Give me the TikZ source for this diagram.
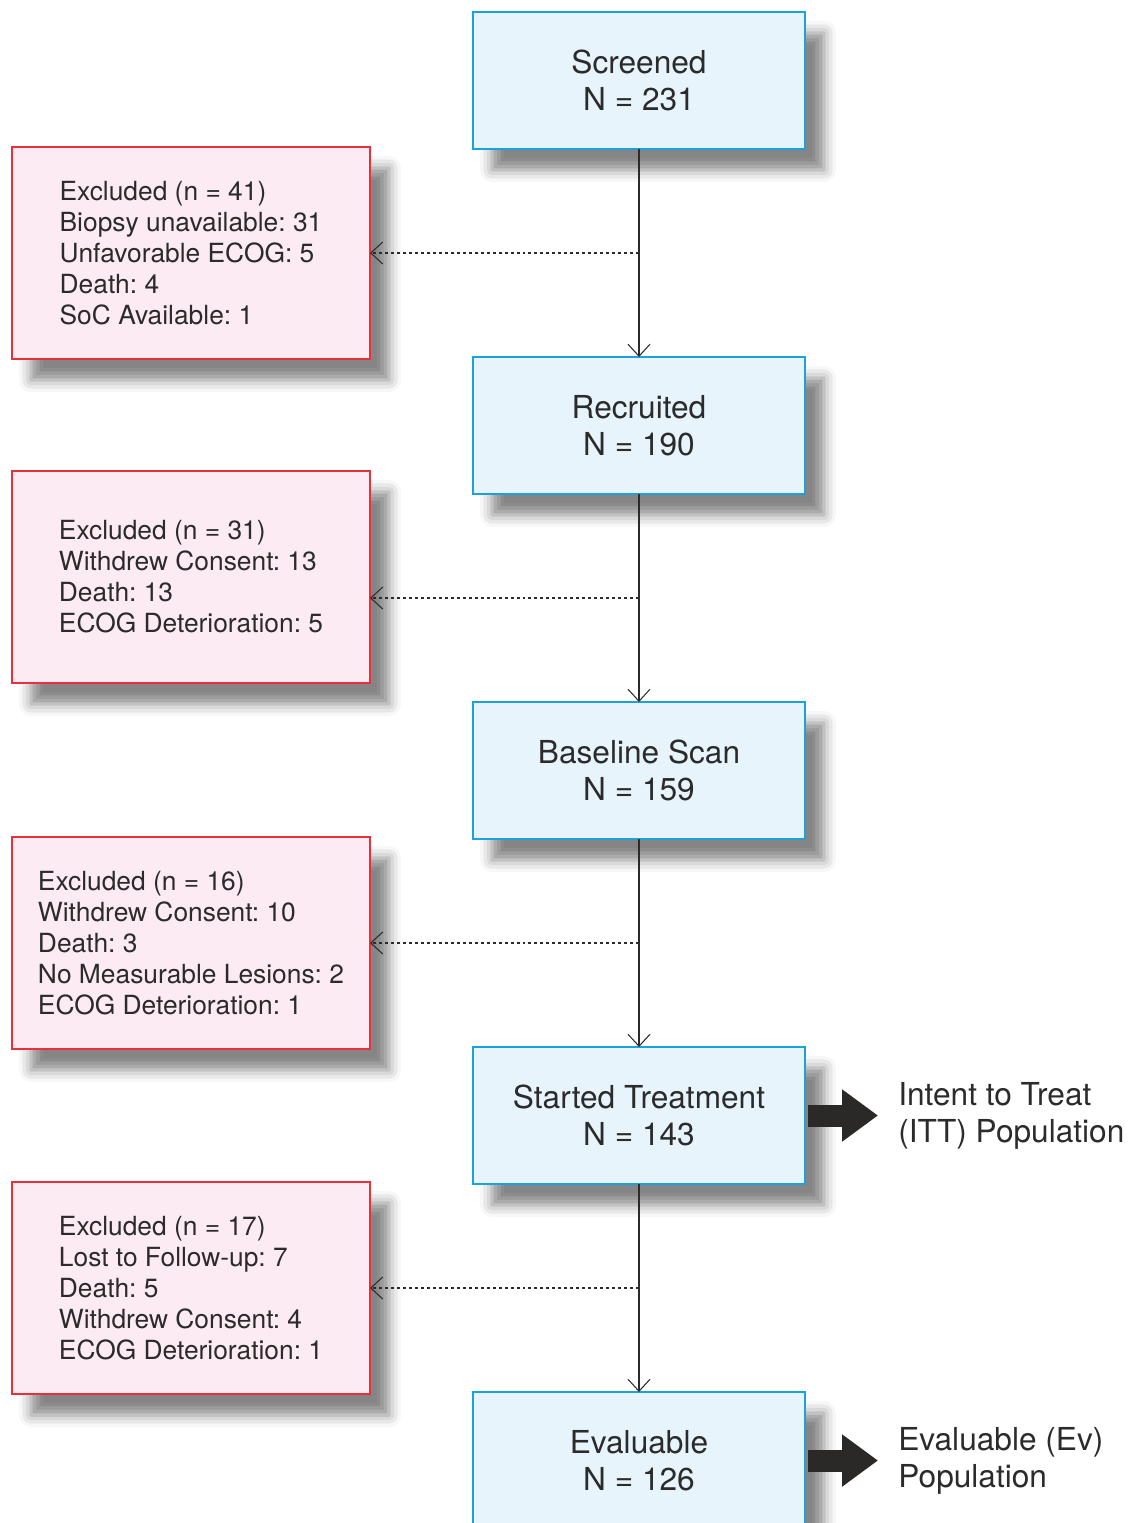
\documentclass[tikz,border=0pt]{standalone}
\usepackage{fontspec}
\setmainfont{TeX Gyre Heros}
\usetikzlibrary{positioning,calc,arrows.meta,shadows.blur}
\frenchspacing

\definecolor{inkgray}{HTML}{2B2B2B}
\definecolor{stagefill}{HTML}{E8F4FC}
\definecolor{stageline}{HTML}{1BA1DB}
\definecolor{exclfill}{HTML}{FCEBF2}
\definecolor{exclline}{HTML}{E6303A}
\definecolor{popgray}{HTML}{2A2928}

\tikzset{
  boxshadow/.style={blur shadow={shadow xshift=0.38cm, shadow yshift=-0.42cm,
      shadow blur radius=0.24cm, shadow opacity=48}},
  stage/.style={draw=stageline, fill=stagefill, line width=0.6pt, outer sep=0pt,
      minimum width=6.64cm, minimum height=2.74cm, align=center, text=inkgray,
      font=\fontsize{18}{21}\selectfont, boxshadow},
  excl/.style={draw=exclline, fill=exclfill, line width=0.6pt, outer sep=0pt,
      minimum width=7.16cm, minimum height=4.24cm, align=left, text=inkgray,
      font=\fontsize{15}{17.6}\selectfont, boxshadow},
  flow/.style={draw=inkgray, line width=0.6pt, -{Straight Barb[length=2.4mm,width=4.4mm]}},
  dropout/.style={flow, dash pattern=on 1.7pt off 1.7pt},
  popmark/.style={draw=popgray, line width=0.44cm, -{Triangle[length=0.72cm,width=1cm]}},
  poplabel/.style={align=left, inner sep=0pt, text=inkgray, font=\fontsize{18}{21}\selectfont}
}

\begin{document}
\begin{tikzpicture}
        \useasboundingbox (0,0) rectangle (22.6,-30.46);
        % Define nodes
        % main stages
        \node[stage] (screened) at (12.78,-1.61) {Screened\\N = 231}; %
        \node[stage, below=4.16cm of screened] (recruited) {Recruited\\N = 190}; %
        \node[stage, below=4.16cm of recruited] (baseline) {Baseline Scan\\N = 159}; %
        \node[stage, below=4.16cm of baseline] (started) {Started Treatment\\N = 143}; %
        \node[stage, below=4.16cm of started] (evaluable) {Evaluable\\N = 126}; %
        % drop-out points on the trunk
        \coordinate (d1) at ($(screened.south)!0.5!(recruited.north)$);
        \coordinate (d2) at ($(recruited.south)!0.5!(baseline.north)$);
        \coordinate (d3) at ($(baseline.south)!0.5!(started.north)$);
        \coordinate (d4) at ($(started.south)!0.5!(evaluable.north)$);
        % exclusions
        \node[excl, left=5.38cm of d1] (excl1) {Excluded (n = 41)\\Biopsy unavailable: 31\\Unfavorable ECOG: 5\\Death: 4\\SoC Available: 1}; %
        \node[excl, left=5.38cm of d2, yshift=0.42cm] (excl2) {Excluded (n = 31)\\Withdrew Consent: 13\\Death: 13\\ECOG Deterioration: 5}; %
        \node[excl, left=5.38cm of d3] (excl3) {Excluded (n = 16)\\Withdrew Consent: 10\\Death: 3\\No Measurable Lesions: 2\\ECOG Deterioration: 1}; %
        \node[excl, left=5.38cm of d4] (excl4) {Excluded (n = 17)\\Lost to Follow-up: 7\\Death: 5\\Withdrew Consent: 4\\ECOG Deterioration: 1}; %
        % edges
        \draw[flow] (screened) -- (recruited);
        \draw[flow] (recruited) -- (baseline);
        \draw[flow] (baseline) -- (started);
        \draw[flow] (started) -- (evaluable);
        \draw[dropout] (d1) -- (d1 -| excl1.east);
        \draw[dropout] (d2) -- (d2 -| excl2.east);
        \draw[dropout] (d3) -- (d3 -| excl3.east);
        \draw[dropout] (d4) -- (d4 -| excl4.east);
        % populations
        \draw[popmark] ([xshift=0.06cm]started.east) -- ++(1.4cm,0) coordinate (ittend);
        \draw[popmark] ([xshift=0.06cm]evaluable.east) -- ++(1.4cm,0) coordinate (evend);
        \node[poplabel, right=0.4cm of ittend] (itt) {Intent to Treat\\(ITT) Population}; %
        \node[poplabel, right=0.4cm of evend] (ev) {Evaluable (Ev)\\Population}; %
    \end{tikzpicture}
\end{document}
